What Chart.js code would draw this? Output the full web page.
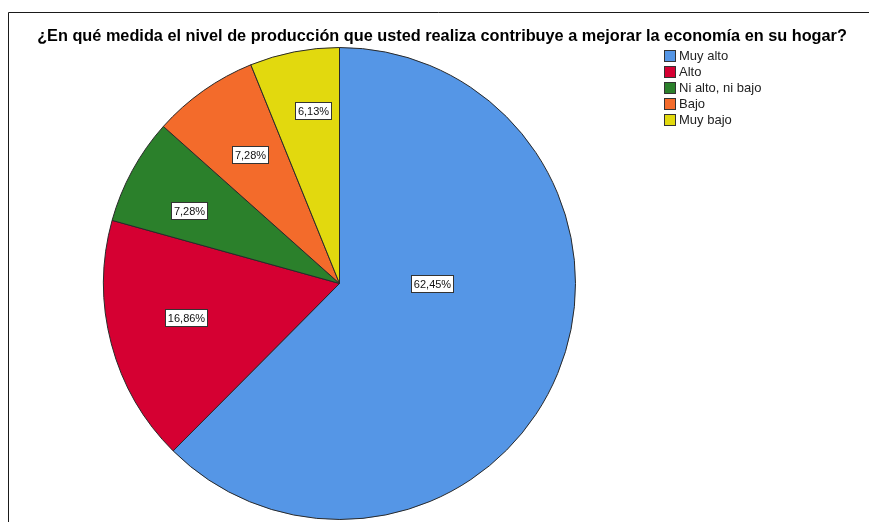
<!DOCTYPE html>
<html>
<head>
<meta charset="utf-8">
<script src="https://cdn.jsdelivr.net/npm/chart.js@4"></script>
<style>
  body { margin: 0; background: #fff; }
  #grafico { display: block; }
</style>
</head>
<body>
<canvas id="grafico" width="869" height="522"></canvas>
<script>
// Datos del gráfico
const titulo = "¿En qué medida el nivel de producción que usted realiza contribuye a mejorar la economía en su hogar?";
const categorias = ["Muy alto", "Alto", "Ni alto, ni bajo", "Bajo", "Muy bajo"];
const porcentajes = [62.45, 16.86, 7.28, 7.28, 6.13];
const colores = ["#5596e6", "#d50032", "#2b802b", "#f36b2b", "#e2d90e"];

// Posición de las etiquetas: fracción del radio y desplazamiento en grados
const posEtiquetas = [[0.39, -22.2], [0.665, 2.5], [0.71, -2.8], [0.664, 0.4], [0.74, 2.4]];

const FUENTE = '"Liberation Sans", Arial, sans-serif';

function formatoPct(v) {
  return v.toFixed(2).replace(".", ",") + "%";
}

// Marco, título, leyenda y etiquetas
const decoracion = {
  id: "decoracion",
  beforeDraw(chart) {
    const ctx = chart.ctx;
    ctx.save();
    ctx.fillStyle = "#fff";
    ctx.fillRect(0, 0, chart.width, chart.height);
    ctx.strokeStyle = "#1a1a1a";
    ctx.lineWidth = 1;
    ctx.beginPath();
    ctx.moveTo(8.5, chart.height);
    ctx.lineTo(8.5, 12.5);
    ctx.lineTo(chart.width, 12.5);
    ctx.stroke();
    ctx.restore();
  },
  afterDraw(chart) {
    const ctx = chart.ctx;
    ctx.save();

    // título
    ctx.fillStyle = "#000";
    ctx.font = "bold 16.3px " + FUENTE;
    ctx.textAlign = "center";
    ctx.textBaseline = "middle";
    ctx.fillText(titulo, 442, 37);

    // leyenda
    ctx.font = "13px " + FUENTE;
    ctx.textAlign = "left";
    chart.data.labels.forEach((lab, i) => {
      const y = 50 + i * 16;
      ctx.fillStyle = chart.data.datasets[0].backgroundColor[i];
      ctx.fillRect(664, y, 12, 12);
      ctx.strokeStyle = "#333";
      ctx.lineWidth = 1;
      ctx.strokeRect(664.5, y + 0.5, 11, 11);
      ctx.fillStyle = "#222";
      ctx.fillText(lab, 679, y + 6.5);
    });

    // etiquetas de porcentaje
    const meta = chart.getDatasetMeta(0);
    ctx.font = "11px " + FUENTE;
    ctx.textAlign = "center";
    meta.data.forEach((arc, i) => {
      const p = arc.getProps(["x", "y", "startAngle", "endAngle", "outerRadius"], true);
      const [f, d] = posEtiquetas[i];
      const ang = (p.startAngle + p.endAngle) / 2 + d * Math.PI / 180;
      const cx = p.x + Math.cos(ang) * p.outerRadius * f;
      const cy = p.y + Math.sin(ang) * p.outerRadius * f;
      const txt = formatoPct(chart.data.datasets[0].data[i]);
      const w = Math.round(ctx.measureText(txt).width) + 5;
      const h = 17;
      const bx = Math.round(cx - w / 2) + 0.5;
      const by = Math.round(cy - h / 2) + 0.5;
      ctx.fillStyle = "#fff";
      ctx.fillRect(bx, by, w, h);
      ctx.strokeStyle = "#333";
      ctx.strokeRect(bx, by, w, h);
      ctx.fillStyle = "#111";
      ctx.fillText(txt, bx + w / 2, by + h / 2 + 0.5);
    });

    ctx.restore();
  }
};

new Chart(document.getElementById("grafico"), {
  type: "pie",
  data: {
    labels: categorias,
    datasets: [{
      data: porcentajes,
      backgroundColor: colores,
      borderColor: "#2a2a2a",
      borderWidth: 1
    }]
  },
  options: {
    responsive: false,
    animation: false,
    layout: {
      padding: { left: 103, right: 293, top: 47, bottom: 2 }
    },
    plugins: {
      legend: { display: false },
      title: { display: false },
      tooltip: { enabled: false }
    }
  },
  plugins: [decoracion]
});
</script>
</body>
</html>
